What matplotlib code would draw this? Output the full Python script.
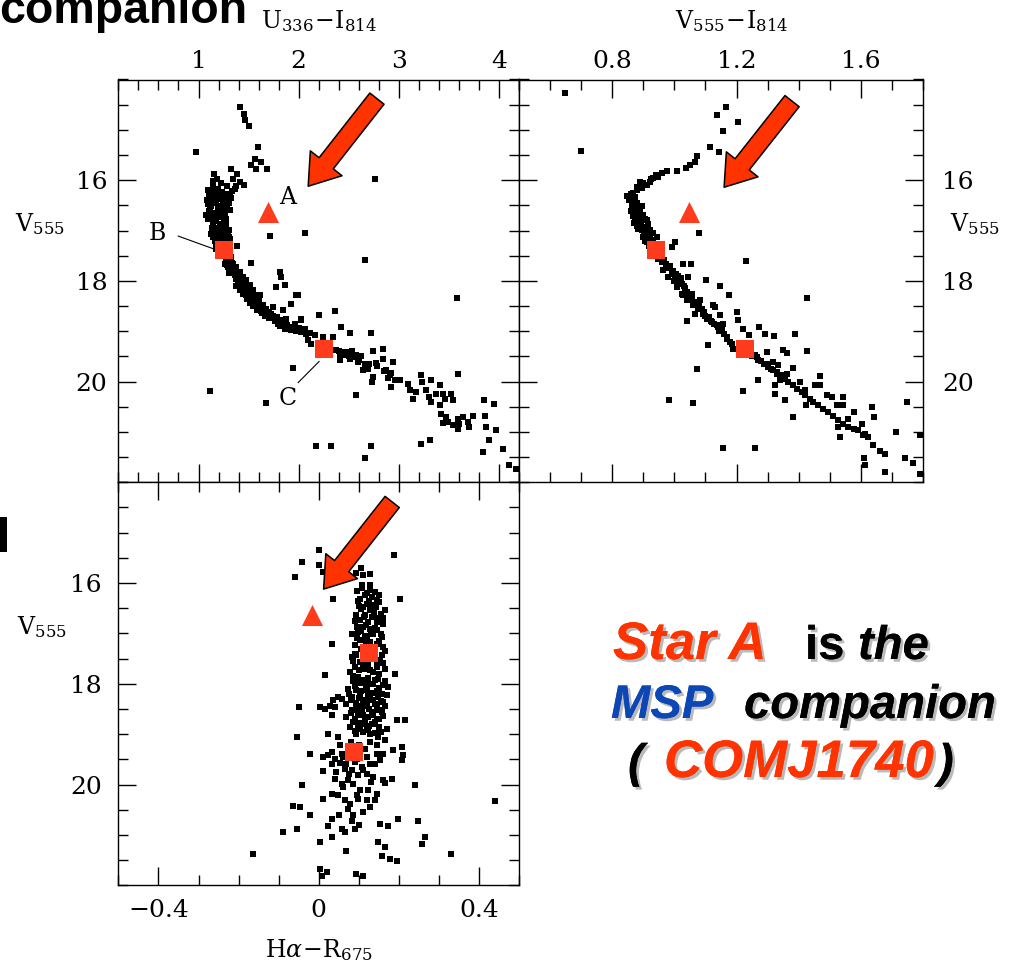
import numpy as np
import matplotlib
matplotlib.use("Agg")
import matplotlib.pyplot as plt
import matplotlib.patheffects as pe
from matplotlib.patches import FancyArrowPatch, Rectangle
from matplotlib.ticker import MultipleLocator, FixedLocator, FuncFormatter

plt.rcParams['mathtext.fontset'] = 'dejavuserif'

# --- panel 1: V555 vs U336-I814 ---
p1_x = [1.412, 1.452, 1.462, 1.505, 0.974, 1.598, 1.561, 1.621, 1.521, 1.578, 1.684, 2.765,
        1.329, 1.385, 1.345, 1.418, 1.372, 1.452, 1.153,
        1.096, 1.146, 1.196, 1.239, 1.296, 1.329, 1.163, 1.113, 1.213, 1.262, 1.080, 1.146, 1.196,
        1.229, 1.279, 1.113, 1.073, 1.163, 1.213, 1.262, 1.179, 1.229, 1.146, 1.279, 1.196, 1.246,
        1.163, 1.296, 1.213, 1.262, 1.146, 1.312, 1.196, 1.246, 1.179, 1.279, 1.229,
        1.385, 1.711, 2.066, 2.665,
        1.329, 1.279, 1.345, 1.379, 1.312, 1.412, 1.362, 1.445, 1.478, 1.395, 1.511, 1.462, 1.545,
        1.495, 1.578, 1.528,
        1.528, 1.810, 1.827, 1.860, 1.777, 1.976,
        1.263, 1.296, 1.330, 1.363, 1.396, 1.429, 1.379, 1.413,
        1.446, 1.529, 1.479, 1.562, 1.512, 1.595, 1.546, 1.645, 1.579, 1.678, 1.629, 1.712, 1.662,
        1.745, 1.778, 1.828, 1.795, 1.861, 1.894, 1.928, 2.027,
        1.478, 1.545, 1.595, 1.644, 1.678, 1.727, 1.777, 1.810, 1.860, 1.910, 1.943, 2.026, 2.059,
        2.109, 2.159, 2.242, 2.342, 2.093, 2.126, 1.844, 1.611, 1.744, 1.877, 1.960,
        2.375, 2.408, 2.458, 2.474, 2.524, 2.574, 2.408, 2.508, 2.591, 2.657, 2.690, 2.640, 2.740,
        2.840, 2.840, 2.773, 2.740, 2.733, 2.873, 2.906, 2.939, 2.889, 2.956, 3.006, 2.923, 3.089,
        3.105, 3.138, 3.172, 3.221, 3.231, 3.321, 3.404, 3.271, 3.298, 3.321, 3.371, 3.437, 3.454,
        3.520, 3.537, 3.404, 3.421, 3.470, 3.437, 3.487, 3.537, 3.587, 3.603, 3.636, 3.686, 3.736,
        3.703, 3.587,
        3.852, 3.952, 3.862, 3.869, 3.968, 3.902, 3.836, 4.035, 4.101, 4.168, 3.587, 1.943, 1.671,
        2.574, 2.169, 2.318, 2.717, 2.660, 3.221, 3.314, 1.993, 1.927, 2.202, 2.365, 2.425, 2.508,
        2.717, 3.577, 1.114,
        1.12, 1.18, 1.25, 1.31, 1.09, 1.17, 1.24, 1.30, 1.10, 1.19, 1.25, 1.31, 1.09, 1.16, 1.27,
        1.13, 1.22, 1.30, 1.12, 1.19, 1.27, 1.16, 1.22, 1.29, 1.20, 1.26, 1.28, 1.22, 1.18, 1.14,
        1.33, 1.36,
        1.26, 1.30, 1.28, 1.33, 1.35, 1.30, 1.38, 1.42, 1.37, 1.45, 1.41, 1.49, 1.44, 1.52, 1.48,
        1.56, 1.51, 1.60, 1.55, 1.63, 1.59, 1.67, 1.62, 1.70, 1.66, 1.74, 1.70, 1.78, 1.76, 1.83,
        1.81, 1.88, 1.86, 1.92, 1.97, 2.02, 2.07, 2.00,
        2.40, 2.44, 2.50, 2.55, 2.60, 2.47, 2.53, 2.62, 2.70, 2.78, 2.85, 2.92,
        1.10, 1.15, 1.23, 1.28, 1.12, 1.20, 1.28, 1.11, 1.20, 1.25, 1.15, 1.21, 1.26, 1.18, 1.23,
        1.14, 1.30, 1.18, 1.24, 1.17, 1.30]
p1_y = [14.554, 14.686, 14.806, 14.925, 15.435, 15.349, 15.588, 15.647, 15.700, 15.773, 15.773, 15.970,
        15.786, 15.879, 15.972, 16.038, 16.118, 16.098, 15.879,
        16.197, 16.144, 16.184, 16.230, 16.277, 16.363, 16.297, 16.343, 16.363, 16.396, 16.396, 16.462, 16.515,
        16.562, 16.529, 16.562, 16.694, 16.661, 16.727, 16.694, 16.807, 16.860, 16.873, 16.893, 16.959, 17.006,
        17.026, 17.059, 17.092, 17.138, 17.125, 17.158, 17.191, 17.225, 17.271, 17.291, 17.324,
        17.304, 17.110, 17.040, 17.580,
        17.523, 17.589, 17.655, 17.722, 17.755, 17.821, 17.887, 17.920, 17.987, 18.020, 18.086, 18.119, 18.185,
        18.218, 18.285, 18.318,
        17.635, 17.821, 17.920, 18.086, 18.119, 18.285,
        17.656, 17.722, 17.788, 17.887, 17.974, 18.053, 18.106, 18.185,
        18.265, 18.305, 18.351, 18.384, 18.430, 18.450, 18.503, 18.530, 18.570, 18.596, 18.636, 18.649, 18.695,
        18.715, 18.768, 18.795, 18.848, 18.861, 18.914, 18.934, 18.748,
        18.284, 18.351, 18.417, 18.483, 18.583, 18.649, 18.715, 18.781, 18.848, 18.914, 18.947, 18.768, 18.947,
        19.033, 19.080, 19.113, 19.113, 19.179, 19.245, 18.583, 18.284, 18.516, 18.748, 18.848,
        19.378, 19.444, 19.411, 19.477, 19.444, 19.477, 19.577, 19.544, 19.610, 19.643, 19.742, 19.775, 19.398,
        19.345, 19.544, 19.630, 19.908, 20.007, 19.775, 19.875, 19.610, 19.921, 19.974, 19.961, 20.107, 20.041,
        20.173, 20.339, 20.206, 19.875, 20.007, 19.974, 20.074, 20.173, 20.306, 20.405, 20.239, 20.239, 20.339,
        20.239, 20.372, 20.471, 20.637, 20.703, 20.823, 20.803, 20.869, 20.736, 20.836, 20.703, 20.803, 20.690,
        20.902, 20.935,
        20.372, 20.438, 20.690, 20.902, 20.968, 21.167, 21.399, 21.333, 21.664, 21.730, 19.842, 19.722, 20.425,
        20.259, 21.280, 21.280, 21.280, 21.512, 21.247, 21.167, 18.284, 18.463, 18.682, 18.602, 18.914, 19.027,
        19.027, 18.331, 20.190,
        16.25, 16.24, 16.31, 16.30, 16.47, 16.41, 16.46, 16.45, 16.62, 16.60, 16.62, 16.60, 16.78, 16.74, 16.77,
        16.94, 16.92, 16.98, 17.07, 17.03, 17.10, 17.20, 17.17, 17.24, 17.33, 17.30, 16.12, 16.05, 15.98, 16.02,
        16.22, 16.18,
        17.50, 17.55, 17.68, 17.64, 17.78, 17.85, 17.86, 17.93, 17.96, 18.02, 18.06, 18.10, 18.17, 18.20, 18.27,
        18.30, 18.37, 18.39, 18.46, 18.47, 18.53, 18.55, 18.60, 18.62, 18.68, 18.70, 18.74, 18.72, 18.80, 18.83,
        18.89, 18.88, 18.95, 18.97, 18.99, 19.02, 19.05, 18.93,
        19.40, 19.47, 19.50, 19.52, 19.58, 19.42, 19.40, 19.50, 19.66, 19.70, 19.78, 19.82,
        16.30, 16.35, 16.38, 16.40, 16.52, 16.55, 16.50, 16.70, 16.66, 16.78, 16.82, 16.86, 16.93, 16.98, 17.05,
        17.02, 17.12, 17.14, 17.27, 17.36, 17.35]

# --- panel 2: V555 vs V555-I814 ---
p2_x = [0.647, 0.699, 1.166, 1.138, 1.204, 1.157, 1.114, 1.145, 1.072, 1.066, 1.050, 1.037, 1.007,
        0.975, 0.959, 0.948, 0.932, 0.921, 0.910, 0.889, 0.894, 0.878, 0.867, 0.846, 0.857, 0.873,
        0.862, 0.878, 0.867, 0.889, 0.873, 0.894, 0.878, 0.910, 0.889, 0.905, 0.921, 0.894, 0.910,
        0.900, 0.921, 0.910,
        0.870, 0.885, 0.900, 0.915, 0.930, 0.925, 0.945, 0.905, 0.880, 0.895,
        0.959, 0.948, 0.975, 0.964, 0.991, 0.980, 1.002, 1.018, 1.007, 1.034, 1.023, 1.050, 1.039,
        1.066, 0.985, 1.010, 1.030, 1.045, 1.000, 1.020,
        1.002, 0.991, 1.079, 1.029, 1.052, 1.102, 1.045, 1.147, 1.177, 1.229, 1.131, 0.983,
        1.029, 1.045, 1.061, 1.077, 1.093, 1.104, 1.120, 1.136, 1.152, 1.082, 1.125, 1.147, 1.158,
        1.066, 1.039, 1.168, 1.179, 1.190, 1.177, 1.201, 1.206, 1.222, 1.240, 1.274, 1.292, 1.321,
        1.389, 1.426, 1.426, 1.351, 1.362, 1.299, 1.109, 1.074, 1.059, 1.222, 1.155, 1.260,
        1.260, 1.270, 1.287, 1.303, 1.319, 1.329, 1.340, 1.356, 1.367, 1.383, 1.394, 1.410, 1.421,
        1.437, 1.448, 1.464, 1.480, 1.496, 1.512, 1.528, 1.544, 1.560, 1.577, 1.593, 1.609, 1.625,
        1.319, 1.335, 1.340, 1.324, 1.324, 1.362, 1.383, 1.405, 1.421, 1.424, 1.453, 1.469, 1.469,
        1.491, 1.507, 1.523, 1.544, 1.544, 1.560, 1.577, 1.528, 1.534, 1.603, 1.614, 1.636, 1.644,
        1.639, 1.662, 1.679, 1.611, 1.614, 1.679, 1.714, 1.748, 1.791, 1.743, 1.770, 1.791, 1.270,
        1.356, 1.383,
        0.853, 0.866, 0.864, 0.876, 0.868, 0.884, 0.875, 0.892, 0.884, 0.898, 0.902, 0.915, 0.912,
        0.925, 0.918, 0.932, 0.860, 0.880, 0.900, 0.925, 0.940,
        0.955, 0.965, 0.972, 0.980, 0.995, 1.005, 1.012, 1.025, 1.035, 1.040, 1.055, 1.058, 1.070,
        1.080, 1.088, 1.095, 1.100, 1.112, 1.118, 1.128, 1.140, 1.145, 1.160, 1.170, 1.185, 1.250,
        1.265, 1.280, 1.300, 1.310, 1.330, 1.345,
        0.870, 0.880, 0.890, 0.905, 0.915, 0.930, 0.940, 0.860, 0.870]
p2_y = [14.275, 15.421, 14.540, 14.706, 14.839, 15.017, 15.336, 15.435, 15.515, 15.634, 15.700, 15.766, 15.819,
        15.813, 15.866, 15.945, 15.965, 16.031, 16.098, 16.031, 16.164, 16.197, 16.263, 16.316, 16.396, 16.330,
        16.495, 16.528, 16.628, 16.661, 16.727, 16.760, 16.827, 16.793, 16.893, 16.926, 16.992, 16.992, 17.059,
        17.125, 17.158, 17.224,
        16.450, 16.580, 16.700, 16.870, 17.050, 17.280, 17.120, 17.200, 16.900, 16.520,
        17.622, 17.556, 17.721, 17.787, 17.854, 17.920, 17.986, 18.053, 18.119, 18.185, 18.251, 18.318, 18.384,
        18.450, 17.700, 17.900, 18.100, 18.300, 18.000, 17.950,
        17.224, 17.324, 17.039, 17.655, 17.655, 17.973, 17.920, 18.106, 18.285, 17.602, 18.516, 20.360,
        18.284, 18.384, 18.483, 18.549, 18.649, 18.748, 18.815, 18.881, 18.947, 18.384, 18.483, 18.682, 18.848,
        18.649, 18.795, 19.113, 19.212, 19.345, 18.284, 18.616, 18.781, 18.947, 19.080, 18.914, 19.046, 19.100,
        19.046, 18.331, 19.398, 19.365, 19.431, 19.411, 19.278, 19.742, 20.425, 20.193, 21.313, 21.313,
        19.477, 19.577, 19.643, 19.709, 19.775, 19.842, 19.895, 19.941, 20.007, 20.074, 20.140, 20.206, 20.272,
        20.339, 20.405, 20.471, 20.538, 20.604, 20.690, 20.769, 20.836, 20.902, 20.935, 20.968, 21.068, 21.101,
        19.610, 19.676, 19.974, 20.074, 20.239, 19.842, 19.722, 20.007, 20.173, 20.471, 20.074, 20.074, 19.895,
        20.272, 20.306, 20.471, 20.306, 20.471, 20.736, 20.604, 20.902, 21.101, 20.836, 21.035, 20.505, 20.703,
        21.267, 21.379, 21.432, 21.512, 21.664, 21.797, 21.001, 20.405, 21.068, 21.518, 21.611, 21.830, 19.961,
        20.372, 20.703,
        16.40, 16.36, 16.55, 16.62, 16.72, 16.75, 16.80, 16.84, 16.96, 16.98, 17.08, 17.10, 17.17,
        17.20, 17.30, 17.32, 16.28, 16.14, 16.06, 15.97, 15.90,
        17.50, 17.58, 17.66, 17.75, 17.80, 17.86, 18.00, 18.06, 18.14, 18.22, 18.26, 18.36, 18.42,
        18.50, 18.56, 18.62, 18.70, 18.72, 18.80, 18.86, 18.92, 19.00, 19.05, 19.15, 19.25, 19.50,
        19.52, 19.60, 19.65, 19.74, 19.80, 19.86,
        16.36, 16.45, 16.62, 16.78, 16.95, 17.18, 17.26, 16.62, 16.85]

# --- panel 3: V555 vs Halpha-R675 ---
p3_x = [-0.043, 0.001, 0.011, -0.059, 0.104, 0.111, 0.128, 0.093, 0.107, 0.128, 0.001, 0.187, 0.202, 0.036,
        0.107, 0.128, 0.140, 0.115, 0.132, 0.103, 0.144, 0.119, 0.136, 0.109, 0.165, 0.128, 0.094, 0.115,
        0.132, 0.148, 0.103, 0.123, 0.161, 0.111, 0.128, 0.144, 0.099, 0.136, 0.119, 0.157, 0.082, 0.103,
        0.128, 0.144, 0.090, 0.161, 0.115, 0.032, 0.094, 0.157, 0.082, 0.153, 0.103, 0.123, 0.144, 0.090,
        0.115, 0.165, 0.078, 0.136, 0.190, 0.015, 0.099, 0.123, 0.148, 0.086, 0.111, 0.136, 0.161, 0.173,
        0.074, 0.094, 0.119, 0.144, 0.103, 0.128, 0.157, 0.082, 0.111, 0.136, 0.161, 0.057, 0.036, 0.069,
        0.094, 0.119, 0.144, 0.082, 0.107, 0.132, 0.157, 0.099, 0.123, 0.144, 0.069, 0.086, 0.111, 0.132,
        0.078, 0.103, 0.123, 0.169, 0.194, 0.215, 0.094, 0.128, 0.148,
        0.003, 0.015, 0.028, 0.040, -0.050, 0.032, 0.049,
        0.024, 0.049, -0.055, 0.053, 0.032, -0.022, 0.011, 0.024, 0.040, 0.057, 0.128, 0.144, 0.165,
        0.186, 0.207, 0.211, 0.207, 0.144, 0.153, 0.119, 0.128, 0.107, 0.090, 0.069, 0.053, 0.032, 0.011,
        0.044, 0.065, 0.082, 0.099, 0.119, 0.136, 0.161, 0.182, 0.040, 0.057, 0.074, 0.086, 0.103, 0.123,
        0.144, 0.165, 0.240, -0.043, 0.032, 0.049, 0.011, 0.065, 0.078, 0.099, 0.119, 0.128, 0.074, 0.086,
        -0.064, -0.047, -0.022, 0.032, 0.082, 0.153, 0.173, 0.198, 0.248, -0.089, -0.055, 0.024, 0.057,
        0.065, 0.090, 0.003, 0.032, 0.069, 0.148, 0.165, 0.157, 0.178, 0.194, 0.265, 0.257, 0.003, 0.020,
        0.111, 0.007, 0.094, -0.163, 0.439, 0.330,
        0.095, 0.120, 0.150, 0.098, 0.125, 0.150, 0.105, 0.138, 0.155, 0.090, 0.118, 0.145, 0.105, 0.130,
        0.155, 0.095, 0.118, 0.140, 0.105, 0.165, 0.085, 0.110, 0.135, 0.160, 0.100, 0.128, 0.150, 0.085,
        0.110, 0.140, 0.165, 0.090, 0.118, 0.150, 0.075, 0.100, 0.122, 0.148, 0.170, 0.092, 0.115, 0.140,
        0.165, 0.098, 0.125, 0.150, 0.110, 0.135, 0.160, 0.090, 0.115, 0.140, 0.098, 0.125, 0.150, 0.110,
        0.140, 0.080, 0.100, 0.115, 0.160, 0.095, 0.060, 0.140, 0.110, 0.075, 0.130, 0.060, 0.095, 0.140,
        0.110, 0.050, 0.100,
        0.100, 0.142, 0.112, 0.160, 0.095, 0.140, 0.115, 0.150, 0.090, 0.110, 0.145, 0.095, 0.125, 0.105,
        0.135, 0.080, 0.125, 0.155, 0.105, 0.135, 0.080, 0.115, 0.150, 0.105, 0.135, 0.090, 0.120, 0.155]
p3_y = [15.578, 15.644, 15.777, 15.876, 15.711, 15.843, 15.823, 15.810, 16.042, 16.042, 15.350, 15.440, 16.307, 16.307,
        16.108, 16.141, 16.175, 16.241, 16.274, 16.307, 16.327, 16.406, 16.440, 16.473, 16.539, 16.539, 16.638, 16.638,
        16.672, 16.685, 16.738, 16.771, 16.804, 16.870, 16.904, 16.937, 16.970, 17.003, 17.056, 17.069, 17.003, 17.135,
        17.169, 17.202, 17.235, 17.268, 17.281, 17.202, 17.434, 17.434, 17.467, 17.533, 17.566, 17.599, 17.632, 17.666,
        17.699, 17.699, 17.765, 17.765, 17.811, 17.831, 17.864, 17.878, 17.897, 17.944, 17.984, 17.997, 18.030, 18.063,
        18.096, 18.129, 18.116, 18.143, 18.209, 18.229, 18.196, 18.262, 18.315, 18.328, 18.362, 18.295, 18.328, 18.408,
        18.428, 18.448, 18.461, 18.527, 18.540, 18.560, 18.560, 18.626, 18.660, 18.693, 18.660, 18.759, 18.792, 18.805,
        18.858, 18.892, 18.925, 18.892, 18.726, 18.726, 18.991, 19.004, 19.057,
        18.461, 18.494, 18.448, 18.461, 18.461, 18.626, 18.262,
        19.004, 19.057, 19.057, 19.223, 19.355, 19.389, 19.455, 19.422, 19.488, 19.389, 19.157, 19.223, 19.123,
        19.322, 19.256, 19.422, 19.521, 19.389, 19.521, 19.455, 19.587, 19.654, 19.554, 19.601, 19.574, 19.587, 19.733,
        19.753, 19.687, 19.720, 19.819, 19.786, 19.852, 19.919, 19.886, 19.886, 19.985, 19.919, 19.985, 20.117, 20.104,
        20.184, 19.972, 20.018, 20.018, 20.184, 20.217, 20.283, 20.316, 20.383, 20.283, 20.316, 20.449, 20.482, 20.614,
        20.416, 20.449, 20.614, 20.681, 20.714, 20.780, 20.813, 20.681, 20.714, 20.946, 20.880, 20.813, 20.880,
        20.946, 20.880, 21.145, 21.045, 21.310, 21.145, 21.244, 21.410, 21.476, 21.509, 21.045, 21.178, 21.675, 21.741,
        21.807, 21.807, 21.774, 21.370, 20.320, 21.370,
        16.15, 16.20, 16.24, 16.36, 16.35, 16.38, 16.52, 16.58, 16.62, 16.75, 16.83, 16.78, 16.95, 16.98,
        17.02, 17.10, 17.15, 17.28, 17.30, 17.35, 17.55, 17.52, 17.50, 17.58, 17.72, 17.72, 17.80, 17.85,
        17.92, 17.93, 17.95, 18.05, 18.05, 18.08, 18.20, 18.28, 18.25, 18.27, 18.22, 18.38, 18.38, 18.40,
        18.44, 18.50, 18.50, 18.52, 18.62, 18.62, 18.64, 18.70, 18.72, 18.75, 18.82, 18.84, 18.86, 18.95,
        18.97, 19.15, 19.22, 19.30, 19.40, 19.50, 19.45, 19.60, 19.72, 19.80, 19.95, 20.05, 20.20, 20.30,
        20.55, 20.60, 20.80,
        16.45, 16.48, 16.68, 16.70, 16.88, 16.90, 17.08, 17.15, 17.40, 17.62, 17.66, 17.98, 18.00, 18.15,
        18.18, 18.33, 18.33, 18.35, 18.45, 18.55, 18.58, 18.67, 18.70, 18.78, 18.80, 18.93, 18.90, 18.95]

# highlighted stars: A (triangle), B and C (squares)
starA = {'p1': (1.69, 16.63), 'p2': (1.048, 16.63), 'p3': (-0.017, 16.64)}
starB = {'p1': (1.25, 17.39), 'p2': (0.941, 17.39), 'p3': (0.124, 17.39)}
starC = {'p1': (2.25, 19.35), 'p2': (1.228, 19.35), 'p3': (0.088, 19.36)}

# arrows (tail -> tip) pointing at star A
arrows = {'p1': ((2.78, 14.38), (2.094, 16.12)),
          'p2': ((1.379, 14.43), (1.160, 16.14)),
          'p3': ((0.183, 14.39), (0.012, 16.12))}

RED = '#ff3300'
MRED = '#ff3b1e'

W, H = 1016, 963
fig = plt.figure(figsize=(W / 100, H / 100), dpi=100)


def frame(px_left, px_top, px_w, px_h):
    return fig.add_axes([px_left / W, 1 - (px_top + px_h) / H, px_w / W, px_h / H])


ax1 = frame(118.3, 79.5, 401, 402.8)
ax2 = frame(519.3, 79.5, 403.4, 402.8)
ax3 = frame(118.3, 482.3, 401, 403)

# tick labels like "0" and "1.2" (no trailing zeros), with a real minus sign
short = FuncFormatter(lambda v, pos: ('%g' % round(v, 3)).replace('-', '\u2212'))

for ax in (ax1, ax2, ax3):
    ax.set_ylim(22, 14)
    ax.yaxis.set_major_locator(FixedLocator([16, 18, 20]))
    ax.yaxis.set_minor_locator(MultipleLocator(0.5))
    ax.tick_params(which='both', direction='in', top=True, right=True, bottom=True, left=True,
                   width=1.0, color='black', labelsize=18)
    ax.tick_params(which='major', length=13)
    ax.tick_params(which='minor', length=7)
    for s in ax.spines.values():
        s.set_linewidth(1.0)

ax1.set_xlim(0.2, 4.2)
ax1.xaxis.set_major_locator(MultipleLocator(1))
ax1.xaxis.set_minor_locator(MultipleLocator(0.2))
ax1.tick_params(labeltop=True, labelbottom=False, labelleft=True, labelright=False)
ax1.tick_params(axis='x', pad=5)
ax1.tick_params(axis='y', pad=8)

ax2.set_xlim(0.5, 1.8)
ax2.xaxis.set_major_locator(FixedLocator([0.8, 1.2, 1.6]))
ax2.xaxis.set_minor_locator(MultipleLocator(0.1))
ax2.tick_params(labeltop=True, labelbottom=False, labelleft=False, labelright=True)
ax2.tick_params(axis='x', pad=5)
ax2.tick_params(axis='y', pad=14)

ax3.set_xlim(-0.5, 0.5)
ax3.xaxis.set_major_locator(FixedLocator([-0.4, 0.0, 0.4]))
ax3.xaxis.set_minor_locator(MultipleLocator(0.1))
ax3.xaxis.set_major_formatter(short)
ax3.tick_params(labeltop=False, labelbottom=True, labelleft=True, labelright=False)
ax3.tick_params(axis='x', pad=10)
ax3.tick_params(axis='y', pad=12)

for ax in (ax1, ax2, ax3):
    for lab in ax.get_xticklabels(which='both') + ax.get_yticklabels(which='both'):
        lab.set_family('DejaVu Serif')

panels = [(ax1, 'p1', p1_x, p1_y), (ax2, 'p2', p2_x, p2_y), (ax3, 'p3', p3_x, p3_y)]
for ax, key, xs, ys in panels:
    ax.scatter(xs, ys, s=16, marker='s', color='black', linewidths=0, zorder=2)
    ax.scatter(*starA[key], s=230, marker='^', color=MRED, linewidths=0, zorder=4)
    ax.scatter(*starB[key], s=160, marker='s', color=MRED, linewidths=0, zorder=4)
    ax.scatter(*starC[key], s=160, marker='s', color=MRED, linewidths=0, zorder=4)
    tail, tip = arrows[key]
    arr = FancyArrowPatch(tail, tip, arrowstyle='simple,head_length=21,head_width=29,tail_width=13',
                          mutation_scale=1, facecolor=RED, edgecolor='black', linewidth=1.1,
                          shrinkA=0, shrinkB=0, zorder=5)
    ax.add_patch(arr)

lab_font = dict(family='DejaVu Serif', size=17)
ax1.text(0.5, 1.128, r'$\mathrm{U}_{336}\!-\!\mathrm{I}_{814}$', transform=ax1.transAxes,
         ha='center', va='baseline', **lab_font)
ax2.text(0.526, 1.128, r'$\mathrm{V}_{555}\!-\!\mathrm{I}_{814}$', transform=ax2.transAxes,
         ha='center', va='baseline', **lab_font)
ax3.text(0.5, -0.178, r'$\mathrm{H}\alpha\!-\!\mathrm{R}_{675}$', transform=ax3.transAxes,
         ha='center', va='baseline', **lab_font)
ax1.text(-0.195, 0.64, r'$\mathrm{V}_{555}$', transform=ax1.transAxes, ha='center', va='center', **lab_font)
ax3.text(-0.19, 0.64, r'$\mathrm{V}_{555}$', transform=ax3.transAxes, ha='center', va='center', **lab_font)
ax2.text(1.13, 0.64, r'$\mathrm{V}_{555}$', transform=ax2.transAxes, ha='center', va='center', **lab_font)

# labels A, B, C in first panel
ax1.text(1.894, 16.35, 'A', ha='center', va='center', **lab_font)
ax1.text(0.589, 17.05, 'B', ha='center', va='center', **lab_font)
ax1.text(1.888, 20.34, 'C', ha='center', va='center', **lab_font)
ax1.plot([0.798, 1.187], [17.11, 17.39], color='black', lw=0.8, zorder=3)
ax1.plot([1.994, 2.203], [20.02, 19.60], color='black', lw=0.8, zorder=3)

# slide text
fig.text(-1 / W, 1 - 23 / H, 'companion', family='Liberation Sans', weight='bold', size=33.5,
         ha='left', va='baseline')
fig.add_artist(Rectangle((0, 1 - 552 / H), 7 / W, 35 / H, transform=fig.transFigure,
                         facecolor='black', edgecolor='none'))

shadow = [pe.withSimplePatchShadow(offset=(2, -2), shadow_rgbFace='0.55', alpha=0.6), pe.Normal()]


def word(px, py, s, color, style='italic', size=34):
    fig.text(px / W, 1 - py / H, s, family='Liberation Sans', weight='bold', style=style,
             size=size, color=color, ha='left', va='baseline', path_effects=shadow)


word(613, 659, 'Star A', RED, size=38)
word(805, 659, 'is', 'black', style='normal')
word(858, 659, 'the', 'black')
word(611, 718, 'MSP', '#0d47b5')
word(744, 718, 'companion', 'black')
word(628, 777, '(', 'black')
word(664, 777, 'COMJ1740', RED, size=38)
word(938, 777, ')', 'black')

fig.savefig('out.png', dpi=100)
